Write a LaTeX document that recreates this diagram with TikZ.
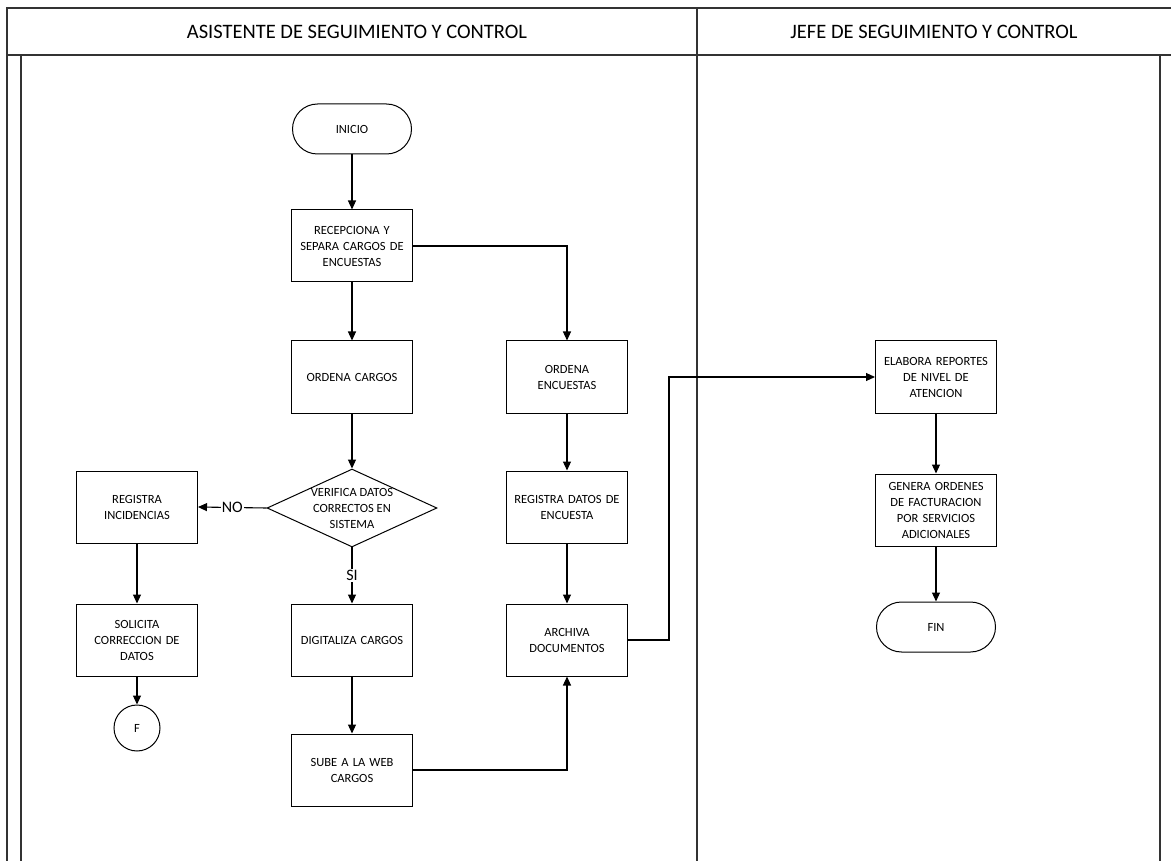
\documentclass[tikz,border=0pt]{standalone}
\usepackage{fontspec}
\setmainfont{Carlito}
\usetikzlibrary{arrows.meta,shapes.geometric,positioning}
\begin{document}
\begin{tikzpicture}[x=1pt,y=-1pt,
  line width=1.1pt,
  every node/.style={font=\fontsize{12.5}{16}\selectfont, align=center},
  task/.style={draw, line width=1pt, minimum width=119pt, minimum height=72pt, inner sep=2pt, text width=117pt},
  term/.style={draw, line width=1pt, rounded corners=25pt, minimum width=119pt, minimum height=50pt},
  decision/.style={draw, line width=1pt, diamond, aspect=2.18, minimum width=166pt, minimum height=76pt, inner sep=0pt},
  connector/.style={draw, line width=1pt, circle, minimum size=46pt, inner sep=0pt},
  flow/.style={line width=1.1pt, -{Triangle[length=9pt,width=8pt]}},
  lane/.style={line width=1.3pt, draw=black!80},
  lbl/.style={fill=white, inner sep=1pt, font=\fontsize{16}{18}\selectfont},
  hdr/.style={font=\fontsize{20.5}{22}\selectfont}
]
\useasboundingbox (0,0) rectangle (1171,861);

% swimlane pool frame
\draw[lane] (7,861) -- (7,8) -- (1171,8);
\draw[lane] (7,55) -- (1171,55);
\draw[lane] (21,55) -- (21,861);
\draw[lane] (697,8) -- (697,861);
\draw[lane] (1160,55) -- (1160,861);
\node[hdr] (h1) at (357,32) {ASISTENTE DE SEGUIMIENTO Y CONTROL};
\node[hdr] (h2) at (934,32) {JEFE DE SEGUIMIENTO Y CONTROL};

% lane 1: asistente
\node[term] (inicio) at (352,129) {INICIO};
\node[task] (recep) at (352,246) {RECEPCIONA Y\\SEPARA CARGOS DE\\ENCUESTAS};
\node[task] (ordc) at (352,377) {ORDENA CARGOS};
\node[task] (orde) at (567,377) {ORDENA\\ENCUESTAS};
\node[decision] (verif) at (352,508) {VERIFICA DATOS\\CORRECTOS EN\\SISTEMA};
\node[task] (reginc) at (137,507) {REGISTRA\\INCIDENCIAS};
\node[task] (regdat) at (567,507) {REGISTRA DATOS DE\\ENCUESTA};
\node[task] (solic) at (137,640) {SOLICITA\\CORRECCION DE\\DATOS};
\node[task] (digit) at (352,640) {DIGITALIZA CARGOS};
\node[task] (arch) at (567,640) {ARCHIVA\\DOCUMENTOS};
\node[connector] (f) at (137,728) {F};
\node[task] (sube) at (352,770) {SUBE A LA WEB\\CARGOS};

% lane 2: jefe
\node[task] (elab) at (936,377) {ELABORA REPORTES\\DE NIVEL DE\\ATENCION};
\node[task] (gen) at (936,510) {GENERA ORDENES\\DE FACTURACION\\POR SERVICIOS\\ADICIONALES};
\node[term] (fin) at (936,627) {FIN};

% flow
\coordinate (c1) at (567,246);
\coordinate (c2) at (567,770);
\coordinate (c3) at (669,640);
\coordinate (c4) at (669,377);

\draw[flow] (inicio) -- (recep);
\draw[flow] (recep) -- (ordc);
\draw[flow] (recep.east) -- (c1) -- (orde.north);
\draw[flow] (ordc) -- (verif);
\draw[flow] (verif.west) -- node[lbl] {NO} (reginc.east);
\draw[flow] (verif.south) -- node[lbl, pos=0.5] {SI} (digit.north);
\draw[flow] (reginc) -- (solic);
\draw[flow] (solic) -- (f);
\draw[flow] (digit) -- (sube);
\draw[flow] (sube.east) -- (c2) -- (arch.south);
\draw[flow] (orde) -- (regdat);
\draw[flow] (regdat) -- (arch);
\draw[flow] (arch.east) -- (c3) -- (c4) -- (elab.west);
\draw[flow] (elab) -- (gen);
\draw[flow] (gen) -- (fin);
\end{tikzpicture}
\end{document}
